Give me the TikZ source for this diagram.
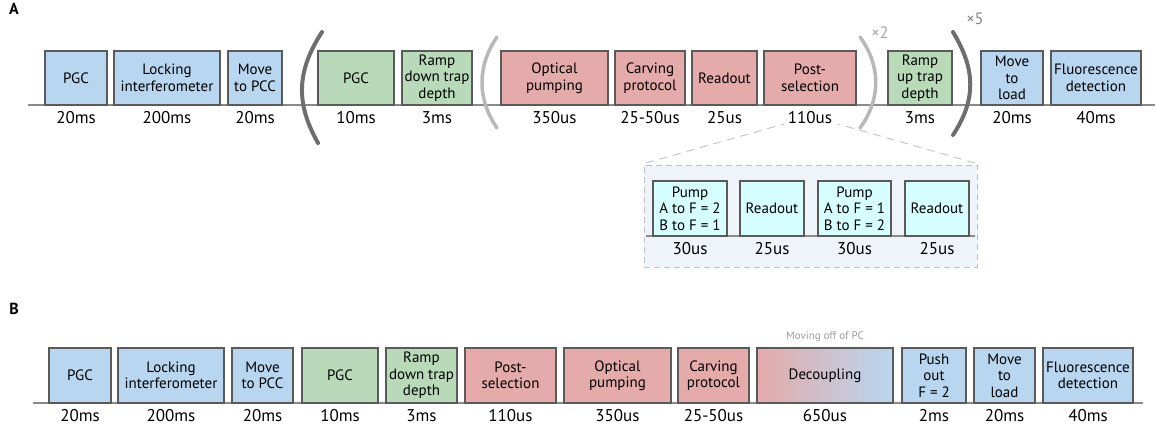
\documentclass[tikz,border=0pt]{standalone}
\usepackage{fontspec}
\setmainfont{PT Sans}
\definecolor{cblue}{HTML}{B8D6F0}
\definecolor{cgreen}{HTML}{B9DAB9}
\definecolor{cpink}{HTML}{E5AAAA}
\definecolor{ccyan}{HTML}{D6FEFE}
\definecolor{cinset}{HTML}{EFF4FB}
\definecolor{cedge}{HTML}{5A5A5A}
\definecolor{caxis}{HTML}{8A8A8A}
\definecolor{cdark}{HTML}{6E6E6E}
\definecolor{clight}{HTML}{B8B8B8}
\tikzset{
  blk/.style={draw=cedge, line width=1.1bp, inner sep=0pt, align=center,
    font=\fontsize{15bp}{16.5bp}\selectfont},
  dur/.style={inner sep=0pt, font=\fontsize{17bp}{18bp}\selectfont},
  axis/.style={draw=caxis, line width=1.4bp},
  paren/.style={line width=4bp, line cap=round},
  rep/.style={inner sep=0pt, font=\fontsize{16.5bp}{18bp}\selectfont},
  panel/.style={inner sep=0pt, font=\fontsize{16bp}{18bp}\selectfont\bfseries},
  zoomline/.style={draw=clight!80, dashed, dash pattern=on 8bp off 6bp, line width=1bp}
}
% one timed step: name, x-left, x-right, y-top, y-bottom, fill style, label, duration
\newcommand\tblock[8]{%
  \node[blk,#6,minimum width={(#3-#2)*1bp},minimum height={(#5-#4)*1bp}]
    (#1) at ({(#2+#3)/2},{(#4+#5)/2}) {#7};
  \node[dur] (#1d) at ({(#2+#3)/2},{#5+13}) {#8};}
\begin{document}
\begin{tikzpicture}[x=1bp,y=-1bp]
\useasboundingbox (0,0) rectangle (1156,430);

% ---------------- panel A ----------------
\node[panel] (labA) at (14,9) {A};
\coordinate (axA0) at (28,105);
\coordinate (axA1) at (1155,105);
\draw[axis] (axA0) -- (axA1);

\tblock{a1}{45}{107}{51}{105}{fill=cblue}{PGC}{20ms}
\tblock{a2}{114}{220}{51}{105}{fill=cblue}{Locking\\interferometer}{200ms}
\tblock{a3}{228}{282}{51}{105}{fill=cblue}{Move\\to PCC}{20ms}
\tblock{a4}{318}{394}{51}{105}{fill=cgreen}{PGC}{10ms}
\tblock{a5}{402}{472}{51}{105}{fill=cgreen}{Ramp\\down trap\\depth}{3ms}
\tblock{a6}{501}{608}{51}{105}{fill=cpink}{Optical\\pumping}{350us}
\tblock{a7}{615}{685}{51}{105}{fill=cpink}{Carving\\protocol}{25-50us}
\tblock{a8}{692}{757}{51}{105}{fill=cpink}{Readout}{25us}
\tblock{a9}{764}{856}{51}{105}{fill=cpink}{Post-\\selection}{110us}
\tblock{a10}{888}{952}{51}{105}{fill=cgreen}{Ramp\\up trap\\depth}{3ms}
\tblock{a11}{981}{1043}{51}{105}{fill=cblue}{Move\\to\\load}{20ms}
\tblock{a12}{1051}{1141}{51}{105}{fill=cblue}{Fluorescence\\detection}{40ms}

% repetition brackets
\draw[paren, cdark] (322,32) .. controls (296,72) and (296,104) .. (318,143);
\draw[paren, clight, line width=3.5bp] (497,37) .. controls (477,66) and (477,99) .. (497,128);
\draw[paren, clight, line width=3.5bp] (860,37) .. controls (881,66) and (881,99) .. (860,128);
\draw[paren, cdark] (953,32) .. controls (976,70) and (976,100) .. (953,135);
\node[rep, text=clight!90!black] (x2) at (880,33) {×2};
\node[rep, text=cdark!85] (x5) at (975,19) {×5};

% zoomed detail of the post-selection step
\coordinate (zl0) at (646,163);
\coordinate (zl1) at (784,124);
\coordinate (zr0) at (975,163);
\coordinate (zr1) at (838,124);
\draw[zoomline] (zl0) -- (zl1);
\draw[zoomline] (zr0) -- (zr1);
\node[draw=clight!90, fill=cinset, dashed, dash pattern=on 6bp off 4bp, line width=1bp,
  minimum width=333bp, minimum height=102bp, inner sep=0pt] (inset) at (810.5,216) {};
\coordinate (axI0) at (646,236);
\coordinate (axI1) at (975,236);
\draw[axis] (axI0) -- (axI1);
\tblock{i1}{653}{727}{181}{236}{fill=ccyan}{Pump\\A to F = 2\\B to F = 1}{30us}
\tblock{i2}{740}{804}{181}{236}{fill=ccyan}{Readout}{25us}
\tblock{i3}{818}{891}{181}{236}{fill=ccyan}{Pump\\A to F = 1\\B to F = 2}{30us}
\tblock{i4}{905}{969}{181}{236}{fill=ccyan}{Readout}{25us}

% ---------------- panel B ----------------
\node[panel] (labB) at (14,309) {B};
\coordinate (axB0) at (33,403);
\coordinate (axB1) at (1143,403);
\draw[axis] (axB0) -- (axB1);

\tblock{b1}{49}{111}{348}{403}{fill=cblue}{PGC}{20ms}
\tblock{b2}{118}{224}{348}{403}{fill=cblue}{Locking\\interferometer}{200ms}
\tblock{b3}{232}{293}{348}{403}{fill=cblue}{Move\\to PCC}{20ms}
\tblock{b4}{302}{378}{348}{403}{fill=cgreen}{PGC}{10ms}
\tblock{b5}{386}{457}{348}{403}{fill=cgreen}{Ramp\\down trap\\depth}{3ms}
\tblock{b6}{465}{556}{348}{403}{fill=cpink}{Post-\\selection}{110us}
\tblock{b7}{564}{671}{348}{403}{fill=cpink}{Optical\\pumping}{350us}
\tblock{b8}{678}{749}{348}{403}{fill=cpink}{Carving\\protocol}{25-50us}
\tblock{b9}{757}{893}{348}{403}{left color=cpink,right color=cblue}{Decoupling}{650us}
\tblock{b10}{902}{966}{348}{403}{fill=cblue}{Push\\out\\F = 2}{2ms}
\tblock{b11}{974}{1035}{348}{403}{fill=cblue}{Move\\to\\load}{20ms}
\tblock{b12}{1043}{1133}{348}{403}{fill=cblue}{Fluorescence\\detection}{40ms}

\node[inner sep=0pt, text=clight!85!black, font=\fontsize{11bp}{13bp}\selectfont]
  (moving) at (825,337) {Moving off of PC};
\end{tikzpicture}
\end{document}
